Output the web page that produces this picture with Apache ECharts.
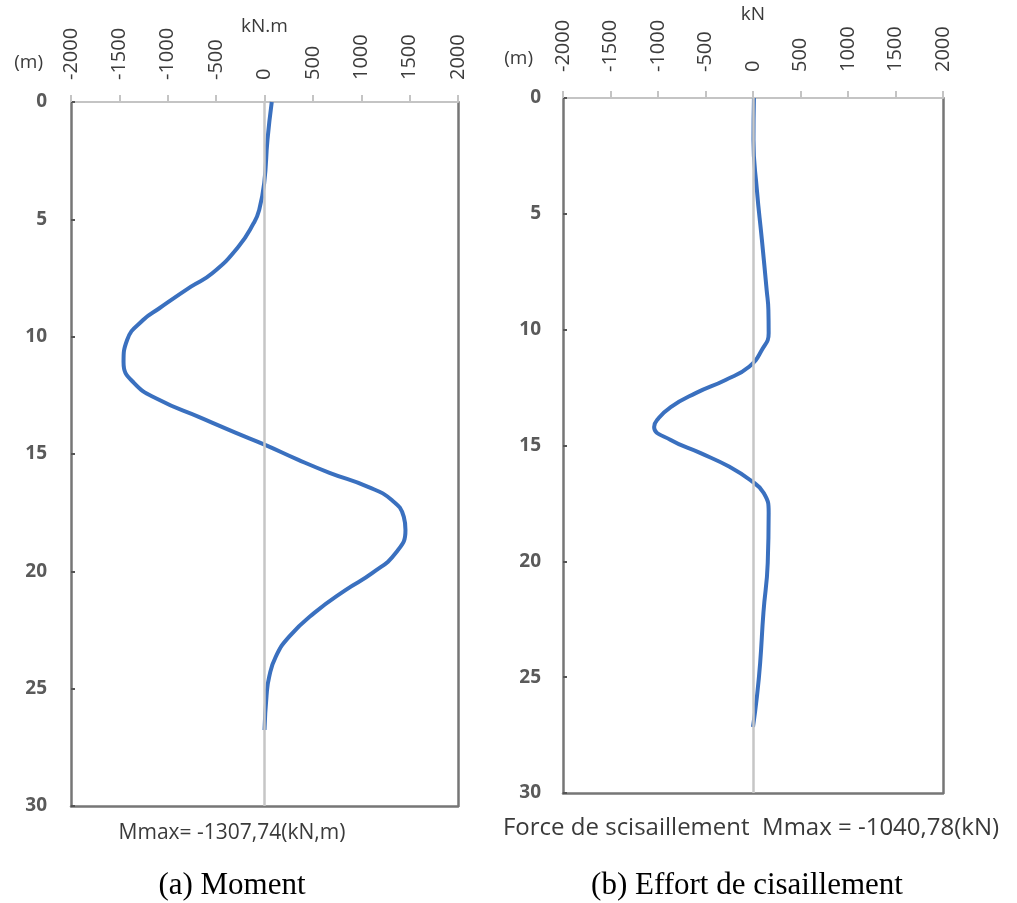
<!DOCTYPE html>
<html>
<head>
<meta charset="utf-8">
<script src="https://cdn.jsdelivr.net/npm/echarts@6/dist/echarts.min.js"></script>
<style>
  html, body { margin: 0; padding: 0; background: #ffffff; }
  #chart { width: 1017px; height: 903px; }
</style>
</head>
<body>
<div id="chart"></div>
<script>
// Bending moment along the pile (kN.m) against depth (m)
const momentDepth = [0, 1.6, 3.45, 4.6, 5.15, 6.17, 7.3, 7.87, 8.8, 9.29, 10.14, 11.08, 11.97, 12.7, 13.42, 14.1, 14.6, 15.25, 15.8, 16.4, 16.96, 17.68, 18.24, 19.2, 20.07, 20.8, 21.77, 22.78, 23.63, 24.5, 25.3, 26.76];
const momentValue = [75, 31, -3, -55, -110, -270, -540, -760, -1090, -1255, -1420, -1457, -1350, -1085, -680, -295, 0, 350, 672, 1070, 1315, 1440, 1457, 1360, 1116, 837, 515, 255, 117, 48, 21, 0];

// Shear force along the pile (kN) against depth (m)
const shearDepth = [0, 1.8, 3.97, 6.1, 8.3, 9.15, 10.14, 10.88, 11.6, 12.17, 12.73, 13.34, 13.9, 14.2, 14.76, 15.32, 15.92, 16.49, 17.05, 17.9, 20.07, 22.2, 24.4, 25.85, 27.15];
const shearValue = [10, 5, 41, 93, 144, 162, 165, 93, -41, -289, -598, -866, -1010, -1040.78, -866, -557, -247, -30, 113, 165, 155, 110, 75, 41, 0];

// Axis settings shared by both panels
const forceMin = -2000, forceMax = 2000, forceStep = 500;
const depthMin = 0, depthMax = 30, depthStep = 5;

const momentUnit = 'kN.m';
const shearUnit = 'kN';
const depthUnit = '(m)';
const momentNote = 'Mmax= -1307,74(kN,m)';
const shearNote = 'Force de scisaillement  Mmax = -1040,78(kN)';
const momentCaption = '(a) Moment';
const shearCaption = '(b) Effort de cisaillement';

const zip = (xs, ys) => xs.map((x, i) => [x, ys[i]]);
const plain = v => String(v);

const sansFont = '"Open Sans", "Liberation Sans", sans-serif';
const serifFont = '"Liberation Serif", "DejaVu Serif", serif';
const frameColor = '#767676';
const topColor = '#c4c4c4';
const curveColor = '#3a70bf';

function topAxis(gridIndex, unit, nameGap, labelMargin) {
  return {
    type: 'value', gridIndex, position: 'top',
    min: forceMin, max: forceMax, interval: forceStep,
    name: unit, nameLocation: 'middle', nameGap, nameMoveOverlap: false,
    nameTextStyle: { fontFamily: sansFont, fontSize: 19, color: '#3a3a3a' },
    axisLine: { show: true, onZero: false, lineStyle: { color: topColor, width: 2 } },
    axisTick: { show: true, inside: false, length: 7, lineStyle: { color: topColor, width: 2 } },
    axisLabel: { rotate: -90, margin: labelMargin, formatter: plain, fontFamily: sansFont, fontSize: 20, color: '#3c3c3c' },
    splitLine: { show: false }
  };
}
function bottomAxis(gridIndex) {
  return {
    type: 'value', gridIndex, position: 'bottom',
    min: forceMin, max: forceMax, interval: forceStep,
    axisLine: { show: true, onZero: false, lineStyle: { color: frameColor, width: 2.5 } },
    axisTick: { show: false }, axisLabel: { show: false }, splitLine: { show: false }
  };
}
function depthAxis(gridIndex, labelMargin, namePad) {
  return {
    type: 'value', gridIndex, position: 'left', inverse: true,
    min: depthMin, max: depthMax, interval: depthStep,
    name: depthUnit, nameLocation: 'start', nameGap: 30,
    nameTextStyle: { fontFamily: sansFont, fontSize: 19, color: '#3a3a3a', align: 'right', padding: namePad },
    axisLine: { show: true, onZero: false, lineStyle: { color: frameColor, width: 2.5 } },
    axisTick: { show: true, inside: true, length: 4, lineStyle: { color: '#555', width: 2 } },
    axisLabel: { margin: labelMargin, formatter: plain, fontFamily: sansFont, fontSize: 19, fontWeight: 'bold', color: '#5a5a5a' },
    splitLine: { show: false }
  };
}
function rightFrame(gridIndex) {
  return {
    type: 'value', gridIndex, position: 'right', inverse: true,
    min: depthMin, max: depthMax, interval: depthStep,
    axisLine: { show: true, onZero: false, lineStyle: { color: frameColor, width: 2.5 } },
    axisTick: { show: false }, axisLabel: { show: false }, splitLine: { show: false }
  };
}
function curve(xIdx, yIdx, data) {
  return {
    type: 'line', xAxisIndex: xIdx, yAxisIndex: yIdx,
    data, smooth: 0.5, showSymbol: false, clip: false,
    lineStyle: { color: curveColor, width: 4 },
    markLine: {
      silent: true, symbol: 'none', label: { show: false },
      lineStyle: { color: '#c6c6c6', width: 2.5, type: 'solid' },
      data: [{ xAxis: 0 }]
    },
    z: 3
  };
}

const chart = echarts.init(document.getElementById('chart'), null, { renderer: 'canvas' });
chart.setOption({
  backgroundColor: '#ffffff',
  animation: false,
  grid: [
    { left: 71, right: 559, top: 102, bottom: 97 },
    { left: 563, right: 74, top: 98, bottom: 110 }
  ],
  xAxis: [
    topAxis(0, momentUnit, 66, 22),
    bottomAxis(0),
    topAxis(1, shearUnit, 74, 26),
    bottomAxis(1)
  ],
  yAxis: [
    depthAxis(0, 24, [0, 28, 0, 0]),
    rightFrame(0),
    depthAxis(1, 22, [0, 30, 0, 0]),
    rightFrame(1)
  ],
  series: [
    curve(0, 0, zip(momentValue, momentDepth)),
    curve(2, 2, zip(shearValue, shearDepth))
  ],
  graphic: [
    { type: 'text', x: 232, y: 833, style: { text: momentNote, textAlign: 'center', textVerticalAlign: 'middle', font: '21px ' + sansFont, fill: '#3a3a3a' } },
    { type: 'text', x: 751, y: 828, style: { text: shearNote, textAlign: 'center', textVerticalAlign: 'middle', font: '24px ' + sansFont, fill: '#3a3a3a' } },
    { type: 'text', x: 232, y: 886, style: { text: momentCaption, textAlign: 'center', textVerticalAlign: 'middle', font: '31px ' + serifFont, fill: '#000000' } },
    { type: 'text', x: 747, y: 886, style: { text: shearCaption, textAlign: 'center', textVerticalAlign: 'middle', font: '31px ' + serifFont, fill: '#000000' } }
  ]
});
</script>
</body>
</html>
